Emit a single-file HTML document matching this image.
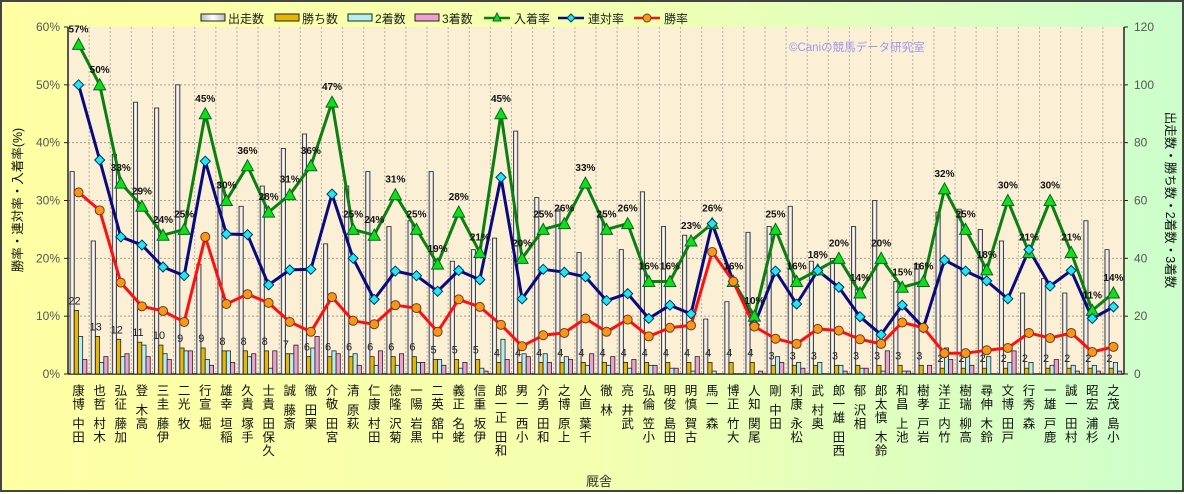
<!DOCTYPE html>
<html><head><meta charset="utf-8">
<style>
html,body{margin:0;padding:0;}
body{width:1184px;height:492px;overflow:hidden;font-family:"Liberation Sans","Noto Sans CJK JP",sans-serif;}
#wrap{position:relative;width:1184px;height:492px;box-sizing:border-box;border:2px solid #444;background:linear-gradient(90deg,#ffffa4 0%,#f4ffb0 50%,#ccffcc 100%);}
svg{position:absolute;left:0;top:0;}
</style></head>
<body>
<div id="wrap">
<svg id="chart" width="1184" height="492"></svg>
</div>
<script>
const categories=["田中 博康","木村 哲也","加藤 征弘","高木 登","伊藤 圭三","牧 光二","堀 宣行","稲垣 幸雄","手塚 貴久","久保田 貴士","斎藤 誠","栗田 徹","宮田 敬介","萩原 清","田村 康仁","菊沢 隆徳","黒岩 陽一","中舘 英二","蛯名 正義","伊坂 重信","和田 正一郎","小西 一男","和田 勇介","上原 博之","千葉 直人","林 徹","武井 亮","小笠 倫弘","田島 俊明","古賀 慎明","森 一馬","大竹 正博","尾関 知人","田中 剛","松永 康利","奥村 武","西田 雄一郎","相沢 郁","鈴木 慎太郎","池上 昌和","岩戸 孝樹","竹内 正洋","高柳 瑞樹","鈴木 伸尋","戸田 博文","森 秀行","鹿戸 雄一","村田 一誠","杉浦 宏昭","小島 茂之"];
const runs=[70,46,76,94,92,100,38,66,58,65,78,83,45,65,70,51,53,70,39,43,47,84,61,57,42,55,43,63,51,48,19,25,49,51,58,39,40,51,60,32,38,56,57,50,46,28,33,28,53,43];
const wins=[22,13,12,11,10,9,9,8,8,8,7,6,6,6,6,6,6,5,5,5,4,4,4,4,4,4,4,4,4,4,4,4,4,3,3,3,3,3,3,3,3,2,2,2,2,2,2,2,2,2];
const seconds=[13,4,6,10,7,8,5,8,6,2,7,9,8,7,3,3,4,5,2,2,12,7,7,6,3,3,2,3,2,1,1,0,0,6,4,4,3,2,1,1,0,9,8,6,4,4,3,3,3,4];
const thirds=[5,6,7,6,5,8,3,4,7,8,10,13,7,3,8,7,4,3,4,1,5,6,4,5,7,6,5,3,2,6,0,0,1,4,2,0,1,2,8,1,3,5,3,0,8,0,5,1,1,1];
const placeRate=[57,50,33,29,24,25,45,30,36,28,31,36,47,25,24,31,25,19,28,21,45,20,25,26,33,25,26,16,16,23,26,16,10,25,16,18,20,14,20,15,16,32,25,18,30,21,30,21,11,14];
const quinellaRate=[50,37,23.7,22.3,18.5,17,36.8,24.2,24.1,15.4,18,18.1,31.1,20,12.9,17.8,17,14.3,17.9,16.3,34,13,18.1,17.6,16.8,12.7,13.9,9.6,11.9,10.4,26,16,8.5,17.8,12.1,17.9,15,9.9,6.8,11.9,8,19.7,17.8,16.1,13,21.5,15.2,17.9,9.6,11.6];
const winRate=[31.4,28.3,15.8,11.7,10.9,9,23.7,12.1,13.8,12.3,9,7.3,13.3,9.2,8.6,11.9,11.4,7.3,12.9,11.6,8.5,4.8,6.7,7.1,9.6,7.3,9.4,6.5,8,8.4,21.1,16,8.2,6.1,5.2,7.8,7.5,6,5.2,8.9,8,3.6,3.6,4.1,4.5,7.1,6.2,7.1,3.8,4.7];
const leftTicks=[0,10,20,30,40,50,60];
const rightTicks=[0,20,40,60,80,100,120];

const NS="http://www.w3.org/2000/svg";
const svg=document.getElementById('chart');
const X0=66,X1=1122,Y0=25,Y1=372;
const slot=(X1-X0)/categories.length;
const xc=i=>X0+slot*(i+0.5);
const yL=v=>Y1-(v/60)*(Y1-Y0);
const yR=v=>Y1-(v/120)*(Y1-Y0);
function mk(tag,attrs,parent){const e=document.createElementNS(NS,tag);for(const k in attrs)e.setAttribute(k,attrs[k]);(parent||svg).appendChild(e);return e;}

const defs=mk('defs',{});
defs.innerHTML='<linearGradient id="gRun" x1="0" x2="1"><stop offset="0" stop-color="#bbb"/><stop offset="0.5" stop-color="#fff"/><stop offset="1" stop-color="#bbb"/></linearGradient>';

// plot background
const bg=mk('rect',{x:X0,y:Y0,width:X1-X0,height:Y1-Y0,fill:'#fbefd6'});



// grid
const grid=mk('g',{});


for(let i=1;i<categories.length;i++){mk('line',{x1:X0+slot*i,x2:X0+slot*i,y1:Y0,y2:Y1,stroke:'#b8b0a0','stroke-width':1,'stroke-dasharray':'2,2'},grid);}
leftTicks.forEach(t=>{if(t>0&&t<60)mk('line',{x1:X0,x2:X1,y1:yL(t),y2:yL(t),stroke:'#a8a090','stroke-width':1,'stroke-dasharray':'2,2'},grid);});

// axes
mk('line',{x1:X0,x2:X0,y1:Y0,y2:Y1,stroke:'#222','stroke-width':1.5});
mk('line',{x1:X1,x2:X1,y1:Y0,y2:Y1,stroke:'#222','stroke-width':1.5});
mk('line',{x1:X0,x2:X1,y1:Y1,y2:Y1,stroke:'#222','stroke-width':1.5});

leftTicks.forEach(t=>{
 const tx=mk('text',{x:X0-8,y:yL(t)+4,'text-anchor':'end','font-size':12,fill:'#555'});
 tx.textContent=t+'%';
 
 
 mk('line',{x1:X0-4,x2:X0,y1:yL(t),y2:yL(t),stroke:'#222'});
});
rightTicks.forEach(t=>{
 const tx=mk('text',{x:X1+10,y:yR(t)+4,'text-anchor':'start','font-size':12,fill:'#555'});
 tx.textContent=t;
 
 
 mk('line',{x1:X1,x2:X1+4,y1:yR(t),y2:yR(t),stroke:'#222'});
});

// bars
const bw=4.2;
const barSeries=[[runs,'url(#gRun)','bar-runs'],[wins,'#e8b800','bar-wins'],[seconds,'#b4f0f0','bar-seconds'],[thirds,'#f0a0d0','bar-thirds']];
barSeries.forEach((s,k)=>{
 s[0].forEach((v,i)=>{
  const x=xc(i)-8.5+k*bw;
  const r=mk('rect',{x:x,y:yR(v),width:bw,height:Y1-yR(v),fill:s[1],stroke:'#222','stroke-width':0.8});
  
  
 });
});
wins.forEach((v,i)=>{
 const t=mk('text',{x:xc(i)-4,y:yR(v)-6,'text-anchor':'middle','font-size':11,fill:'#222'});
 t.textContent=v;
 
 
});

// lines
function line(arr,color,name){
 const p=arr.map((v,i)=>xc(i).toFixed(1)+','+yL(v).toFixed(1)).join(' ');
 const l=mk('polyline',{points:p,fill:'none',stroke:color,'stroke-width':3,'stroke-linejoin':'round'});
 
 
}
line(placeRate,'#0a8010','line-place-rate');
line(quinellaRate,'#0a0a80','line-quinella-rate');
line(winRate,'#ff1010','line-win-rate');
placeRate.forEach((v,i)=>{
 const x=xc(i),y=yL(v);
 const m=mk('polygon',{points:`${x},${y-6} ${x-6},${y+5} ${x+6},${y+5}`,fill:'#10e010',stroke:'#063',"stroke-width":1});
 
 
 const t=mk('text',{x:x,y:y-12,'text-anchor':'middle','font-size':10,'font-weight':'bold',fill:'#111'});
 t.textContent=Math.round(v)+'%';
 
 
});
quinellaRate.forEach((v,i)=>{
 const x=xc(i),y=yL(v);
 const m=mk('polygon',{points:`${x},${y-5} ${x+5},${y} ${x},${y+5} ${x-5},${y}`,fill:'#20e8f0',stroke:'#036',"stroke-width":1});
 
 
});
winRate.forEach((v,i)=>{
 const m=mk('circle',{cx:xc(i),cy:yL(v),r:4.5,fill:'#f59a10',stroke:'#733',"stroke-width":1});
 
 
});

// x labels (chars stacked bottom-up)
categories.forEach((name,i)=>{
 const chars=[...name].reverse();
 const g=mk('text',{'font-size':12.5,fill:'#111','text-anchor':'middle'});
 
 
 let y=393;
 chars.forEach(c=>{
  if(c===' '){y+=6;return;}
  const ts=mk('tspan',{x:xc(i),y:y},g);ts.textContent=c;y+=13.5;
 });
});

// titles
const xt=mk('text',{x:597,y:484,'text-anchor':'middle','font-size':13,fill:'#333'});
xt.textContent='厩舎';


const lt=mk('text',{x:0,y:0,'text-anchor':'middle','font-size':12.5,fill:'#111',transform:'translate(20,198) rotate(-90)'});
lt.textContent='勝率・連対率・入着率(%)';


const rt=mk('text',{x:0,y:0,'text-anchor':'middle','font-size':12.5,fill:'#111',transform:'translate(1164,198) rotate(90)'});
rt.textContent='出走数・勝ち数・2着数・3着数';


const wm=mk('text',{x:787,y:49,'font-size':11.5,fill:'#9a9af0'});
wm.textContent='©Caniの競馬データ研究室';



// legend
const leg=mk('g',{});


const legBars=[[199,'url(#gRun)','出走数'],[273,'#e8b800','勝ち数'],[346,'#b4f0f0','2着数'],[413,'#f0a0d0','3着数']];
legBars.forEach(b=>{
 const e=mk('g',{},leg);
 
 
 mk('rect',{x:b[0],y:12,width:24,height:7,fill:b[1],stroke:'#222','stroke-width':1},e);
 const t=mk('text',{x:b[0]+27,y:21,'font-size':12,fill:'#222'},e);t.textContent=b[2];
});
const legLines=[[482,'#0a8010','#10e010','tri','入着率'],[556,'#0a0a80','#20e8f0','dia','連対率'],[632,'#ff1010','#f59a10','cir','勝率']];
legLines.forEach(b=>{
 const e=mk('g',{},leg);
 
 
 mk('line',{x1:b[0],x2:b[0]+26,y1:16,y2:16,stroke:b[1],'stroke-width':2.5},e);
 const cx=b[0]+13;
 if(b[3]==='tri')mk('polygon',{points:`${cx},11 ${cx-4},19 ${cx+4},19`,fill:b[2],stroke:'#063'},e);
 if(b[3]==='dia')mk('polygon',{points:`${cx},12 ${cx+4},16 ${cx},20 ${cx-4},16`,fill:b[2],stroke:'#036'},e);
 if(b[3]==='cir')mk('circle',{cx:cx,cy:16,r:4,fill:b[2],stroke:'#733'},e);
 const t=mk('text',{x:b[0]+30,y:21,'font-size':12,fill:'#222'},e);t.textContent=b[4];
});
</script>
</body></html>
